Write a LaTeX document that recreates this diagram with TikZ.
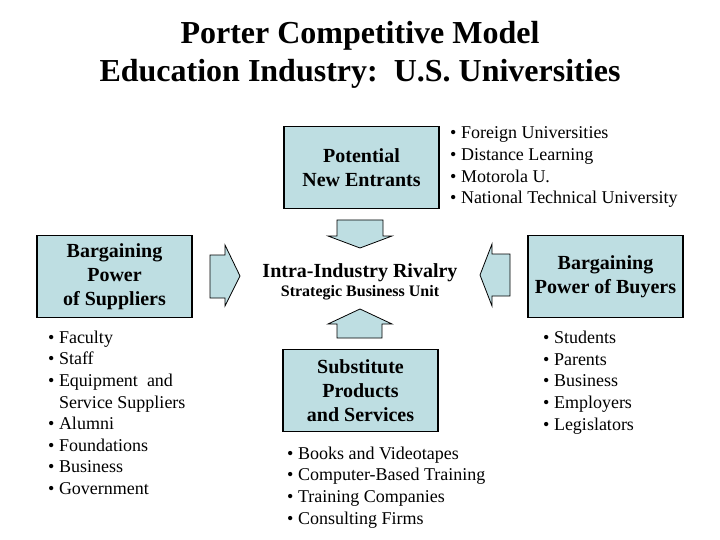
\documentclass[tikz,border=0pt]{standalone}
\usepackage{fontspec}
\setmainfont{Liberation Serif}
\usepackage{xcolor}
\usetikzlibrary{arrows.meta, calc}

\definecolor{boxblue}{RGB}{190,222,226}

\tikzset{
	forcebox/.style={draw, line width=1.6pt, fill=boxblue, minimum width=155pt, minimum height=82pt, inner sep=0pt, align=center, font=\fontsize{20}{24}\selectfont\bfseries},
	itemlist/.style={anchor=north west, inner sep=0pt, align=left, font=\fontsize{18}{21.6}\selectfont},
	blockarrow/.style={draw, line width=0.8pt, fill=boxblue, line join=miter}
}

\begin{document}
\begin{tikzpicture}[x=1pt, y=-1pt]
		\useasboundingbox (0,0) rectangle (720,540);

		% Title
		\node[anchor=north, inner sep=0pt, align=center, font=\fontsize{32}{38}\selectfont\bfseries] (title) at (360,21.5) {Porter Competitive Model\\Education Industry:\ \ U.S. Universities};

		% Forces
		\node[forcebox] (entrants) at (361.5,167.5) {Potential\\New Entrants};
		\node[forcebox] (suppliers) at (114.5,276.5) {Bargaining\\Power\\of Suppliers};
		\node[forcebox] (buyers) at (605.5,276.5) {Bargaining\\Power of Buyers};
		\node[forcebox] (substitutes) at (360.5,390.5) {Substitute\\Products\\and Services};

		\node[font=\fontsize{20}{24}\selectfont\bfseries] (rivalry) at (360,273) {Intra-Industry Rivalry};
		\node[font=\fontsize{16}{19}\selectfont\bfseries] (sbu) at (360,293) {Strategic Business Unit};

		% Arrows into the rivalry
		\draw[blockarrow] (337,220) -- (383,220) -- (383,236) -- (392,236) -- (360,248) -- (328,236) -- (337,236) -- cycle;
		\draw[blockarrow] (337,338) -- (382,338) -- (382,324) -- (392,324) -- (360,309) -- (328,324) -- (337,324) -- cycle;
		\draw[blockarrow] (210,255) -- (225,255) -- (225,245) -- (240,276) -- (225,306) -- (225,298) -- (210,298) -- cycle;
		\draw[blockarrow] (510,254) -- (492,254) -- (492,244) -- (480,275) -- (492,306) -- (492,296) -- (510,296) -- cycle;

		% Lists
		\node[itemlist] (entrantlist) at (450,126.7) {\textbullet\ Foreign Universities\\\textbullet\ Distance Learning\\\textbullet\ Motorola U.\\\textbullet\ National Technical University};
		\node[itemlist] (supplierlist) at (48,330.7) {\textbullet\ Faculty\\\textbullet\ Staff\\\textbullet\ Equipment\ \ and\\\hphantom{\textbullet\ }Service Suppliers\\\textbullet\ Alumni\\\textbullet\ Foundations\\\textbullet\ Business\\\textbullet\ Government};
		\node[itemlist] (buyerlist) at (543,331) {\textbullet\ Students\\\textbullet\ Parents\\\textbullet\ Business\\\textbullet\ Employers\\\textbullet\ Legislators};
		\node[itemlist] (substitutelist) at (287,446.7) {\textbullet\ Books and Videotapes\\\textbullet\ Computer-Based Training\\\textbullet\ Training Companies\\\textbullet\ Consulting Firms};
	\end{tikzpicture}
\end{document}
